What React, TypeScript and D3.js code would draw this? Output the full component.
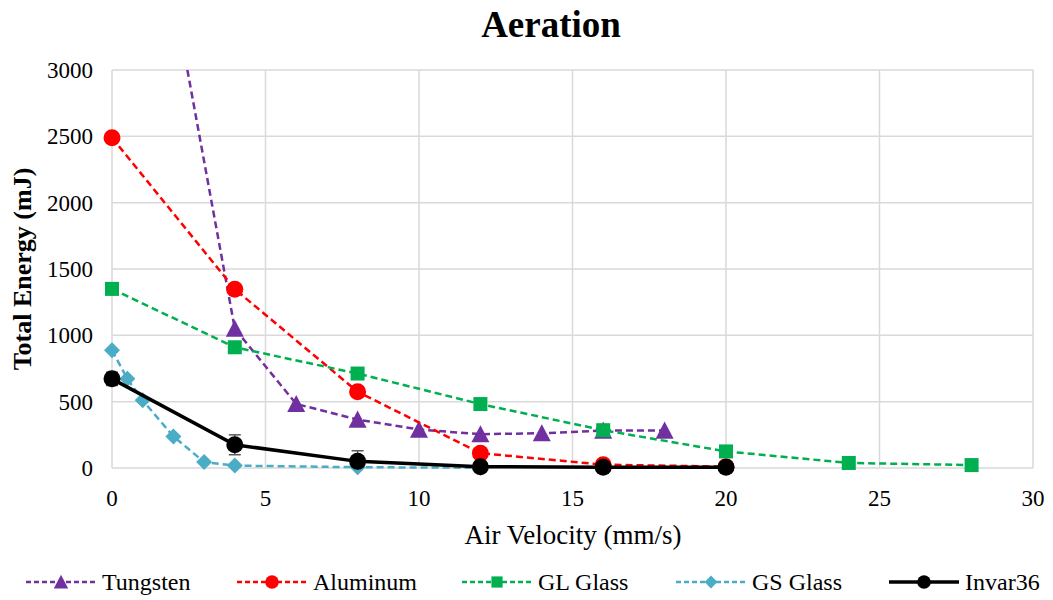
import React from "react";
import * as d3 from "d3";

type Pt = { x: number; y: number; e?: number };

const tungstenX = [0, 4, 6, 8, 10, 12, 14, 16, 18];
const tungstenY = [6100, 1050, 483, 365, 290, 255, 262, 282, 282];
const aluminumX = [0, 4, 8, 12, 16, 20];
const aluminumY = [2490, 1348, 575, 112, 25, 10];
const glX = [0, 4, 8, 12, 16, 20, 24, 28];
const glY = [1350, 910, 712, 482, 285, 125, 38, 22];
const gsX = [0, 0.5, 1, 2, 3, 4, 8, 12];
const gsY = [888, 672, 510, 238, 45, 18, 6, 2];
const invarX = [0, 4, 8, 12, 16, 20];
const invarY = [672, 175, 50, 10, 5, 5];
const invarErr = [50, 75, 80, 0, 0, 0];

const xTicks = [0, 5, 10, 15, 20, 25, 30];
const yTicks = [0, 500, 1000, 1500, 2000, 2500, 3000];

const W = 1053, H = 600;
const L = 112, R = 1033, T = 70, B = 468;

const zip = (xs: number[], ys: number[], es?: number[]): Pt[] =>
  xs.map((x, i) => ({ x, y: ys[i], e: es ? es[i] : undefined }));

const series = [
  { name: "Tungsten", color: "#7030A0", data: zip(tungstenX, tungstenY), marker: "triangle", dashed: true },
  { name: "Aluminum", color: "#FF0000", data: zip(aluminumX, aluminumY), marker: "circle", dashed: true },
  { name: "GL Glass", color: "#00B050", data: zip(glX, glY), marker: "square", dashed: true },
  { name: "GS Glass", color: "#4BACC6", data: zip(gsX, gsY), marker: "diamond", dashed: true },
  { name: "Invar36", color: "#000000", data: zip(invarX, invarY, invarErr), marker: "circle", dashed: false },
];

const legendX = [26, 237, 462, 676, 889];

const font = "'Liberation Serif', 'Times New Roman', serif";

function Marker({ type, cx, cy, color, k = 1 }: { type: string; cx: number; cy: number; color: string; k?: number }) {
  if (type === "circle") return <circle cx={cx} cy={cy} r={8.5 * k} fill={color} />;
  if (type === "square") return <rect x={cx - 7 * k} y={cy - 7 * k} width={14 * k} height={14 * k} fill={color} />;
  if (type === "diamond") {
    const s = 8 * k;
    return <path d={`M${cx},${cy - s}L${cx + s},${cy}L${cx},${cy + s}L${cx - s},${cy}Z`} fill={color} />;
  }
  const s = 9 * k;
  return <path d={`M${cx},${cy - s}L${cx + s},${cy + s * 0.9}L${cx - s},${cy + s * 0.9}Z`} fill={color} />;
}

export default function App() {
  const x = d3.scaleLinear().domain([0, 30]).range([L, R]);
  const y = d3.scaleLinear().domain([0, 3000]).range([B, T]);
  const line = d3.line<Pt>().x((d) => x(d.x)).y((d) => y(d.y));

  return (
    <svg width={W} height={H} style={{ position: "absolute", left: 0, top: 0, background: "#fff" }}>
      <defs>
        <clipPath id="plot">
          <rect x={L - 10} y={T} width={R - L + 20} height={B - T + 2} />
        </clipPath>
      </defs>
      <rect width={W} height={H} fill="#fff" />
      {yTicks.map((t) => (
        <line key={"gy" + t} x1={L} x2={R} y1={y(t)} y2={y(t)} stroke="#d9d9d9" strokeWidth={1.5} />
      ))}
      {xTicks.map((t) => (
        <line key={"gx" + t} x1={x(t)} x2={x(t)} y1={T} y2={B} stroke="#d9d9d9" strokeWidth={1.5} />
      ))}
      {yTicks.map((t) => (
        <text key={"ty" + t} x={93} y={y(t) + 8} textAnchor="end" fontFamily={font} fontSize={23} fill="#000">
          {t}
        </text>
      ))}
      {xTicks.map((t) => (
        <text key={"tx" + t} x={x(t)} y={506} textAnchor="middle" fontFamily={font} fontSize={23} fill="#000">
          {t}
        </text>
      ))}
      <text x={551} y={37} textAnchor="middle" fontFamily={font} fontSize={37} fontWeight="bold">
        Aeration
      </text>
      <text x={573} y={544} textAnchor="middle" fontFamily={font} fontSize={27}>
        Air Velocity (mm/s)
      </text>
      <text
        transform={`translate(31,${269}) rotate(-90)`}
        textAnchor="middle"
        fontFamily={font}
        fontSize={26}
        fontWeight="bold"
      >
        Total Energy (mJ)
      </text>

      {series.map((s) => (
        <g key={s.name}>
          <path
            d={line(s.data) || ""}
            fill="none"
            stroke={s.color}
            strokeWidth={s.dashed ? 2.5 : 3.5}
            strokeDasharray={s.dashed ? "7,4" : undefined}
            clipPath="url(#plot)"
          />
          {s.data.map((d, i) =>
            d.e ? (
              <g key={"e" + i} clipPath="url(#plot)" stroke="#595959" strokeWidth={1.5}>
                <line x1={x(d.x)} x2={x(d.x)} y1={y(d.y + d.e)} y2={y(d.y - d.e)} />
                <line x1={x(d.x) - 6} x2={x(d.x) + 6} y1={y(d.y + d.e)} y2={y(d.y + d.e)} />
                <line x1={x(d.x) - 6} x2={x(d.x) + 6} y1={y(d.y - d.e)} y2={y(d.y - d.e)} />
              </g>
            ) : null
          )}
          {s.data
            .filter((d) => d.y <= 3000)
            .map((d, i) => (
              <Marker key={i} type={s.marker} cx={x(d.x)} cy={y(d.y)} color={s.color} />
            ))}
        </g>
      ))}

      {series.map((s, i) => {
        const lx = legendX[i];
        const ly = 582;
        return (
          <g key={"lg" + s.name}>
            <line
              x1={lx}
              x2={lx + 70}
              y1={ly}
              y2={ly}
              stroke={s.color}
              strokeWidth={s.dashed ? 2.5 : 3.5}
              strokeDasharray={s.dashed ? "5,3" : undefined}
            />
            <Marker type={s.marker} cx={lx + 35} cy={ly} color={s.color} k={0.8} />
            <text x={lx + 76} y={ly + 8} fontFamily={font} fontSize={24}>
              {s.name}
            </text>
          </g>
        );
      })}
    </svg>
  );
}
